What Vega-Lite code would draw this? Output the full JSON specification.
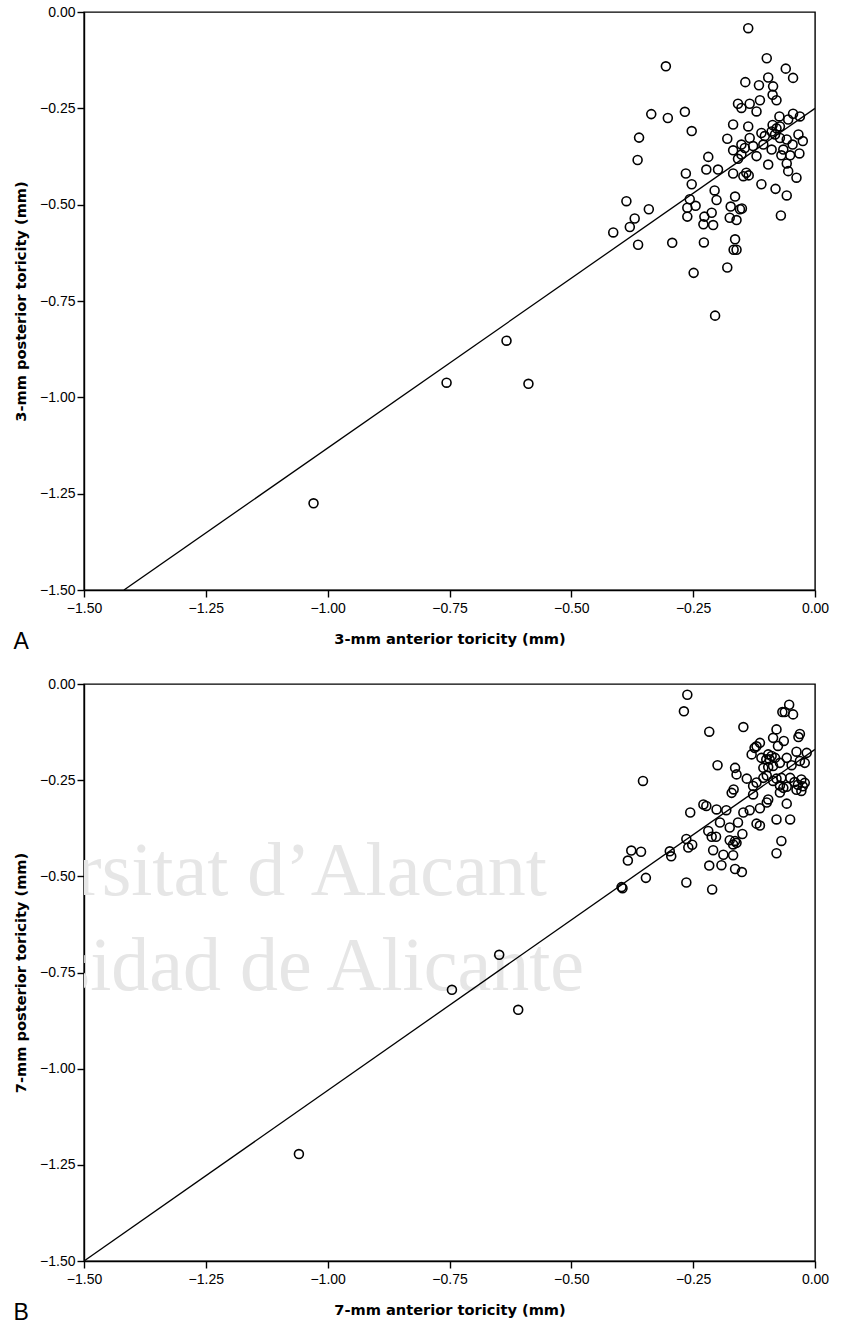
{
  "$schema": "https://vega.github.io/schema/vega-lite/v6.json",
  "background": "white",
  "padding": {"left": 12, "top": 4, "right": 10, "bottom": 5},
  "spacing": 94,
  "bounds": "flush",
  "config": {
    "view": {"stroke": "black", "strokeWidth": 1.4},
    "axis": {
      "grid": false,
      "domainColor": "black",
      "domainWidth": 1.4,
      "tickColor": "black",
      "tickWidth": 1.4,
      "tickSize": 7,
      "labelColor": "black",
      "labelFont": "Liberation Sans",
      "labelFontSize": 14,
      "labelFlush": false,
      "labelOverlap": false,
      "titleColor": "black",
      "titleFont": "DejaVu Sans",
      "titleFontSize": 14.6,
      "titleFontWeight": "bold"
    },
    "axisX": {"labelPadding": 4, "titlePadding": 16},
    "axisY": {"labelPadding": 2, "titlePadding": 11},
    "title": {"font": "Liberation Sans", "fontSize": 23, "fontWeight": "normal", "color": "black"}
  },
  "datasets": {
    "toricity3": [
      {"anterior": -0.137, "posterior": -0.042}, {"anterior": -0.099, "posterior": -0.120},
      {"anterior": -0.306, "posterior": -0.141}, {"anterior": -0.060, "posterior": -0.147},
      {"anterior": -0.045, "posterior": -0.171}, {"anterior": -0.143, "posterior": -0.182},
      {"anterior": -0.115, "posterior": -0.190}, {"anterior": -0.096, "posterior": -0.170},
      {"anterior": -0.086, "posterior": -0.193}, {"anterior": -0.087, "posterior": -0.215},
      {"anterior": -0.079, "posterior": -0.229}, {"anterior": -0.113, "posterior": -0.229},
      {"anterior": -0.158, "posterior": -0.238}, {"anterior": -0.151, "posterior": -0.249},
      {"anterior": -0.134, "posterior": -0.238}, {"anterior": -0.120, "posterior": -0.258},
      {"anterior": -0.336, "posterior": -0.265}, {"anterior": -0.302, "posterior": -0.275},
      {"anterior": -0.267, "posterior": -0.259}, {"anterior": -0.253, "posterior": -0.309},
      {"anterior": -0.361, "posterior": -0.326}, {"anterior": -0.364, "posterior": -0.384},
      {"anterior": -0.073, "posterior": -0.271}, {"anterior": -0.045, "posterior": -0.264},
      {"anterior": -0.031, "posterior": -0.271}, {"anterior": -0.055, "posterior": -0.279},
      {"anterior": -0.168, "posterior": -0.292}, {"anterior": -0.137, "posterior": -0.297},
      {"anterior": -0.087, "posterior": -0.293}, {"anterior": -0.079, "posterior": -0.302},
      {"anterior": -0.089, "posterior": -0.310}, {"anterior": -0.072, "posterior": -0.297},
      {"anterior": -0.082, "posterior": -0.318}, {"anterior": -0.110, "posterior": -0.314},
      {"anterior": -0.103, "posterior": -0.322}, {"anterior": -0.134, "posterior": -0.327},
      {"anterior": -0.180, "posterior": -0.329}, {"anterior": -0.072, "posterior": -0.327},
      {"anterior": -0.058, "posterior": -0.331}, {"anterior": -0.034, "posterior": -0.318},
      {"anterior": -0.025, "posterior": -0.335}, {"anterior": -0.151, "posterior": -0.344},
      {"anterior": -0.168, "posterior": -0.359}, {"anterior": -0.144, "posterior": -0.353},
      {"anterior": -0.127, "posterior": -0.348}, {"anterior": -0.106, "posterior": -0.344},
      {"anterior": -0.089, "posterior": -0.357}, {"anterior": -0.065, "posterior": -0.357},
      {"anterior": -0.046, "posterior": -0.344}, {"anterior": -0.151, "posterior": -0.370},
      {"anterior": -0.120, "posterior": -0.374}, {"anterior": -0.069, "posterior": -0.372},
      {"anterior": -0.051, "posterior": -0.372}, {"anterior": -0.032, "posterior": -0.367},
      {"anterior": -0.219, "posterior": -0.376}, {"anterior": -0.158, "posterior": -0.381},
      {"anterior": -0.058, "posterior": -0.393}, {"anterior": -0.096, "posterior": -0.396},
      {"anterior": -0.223, "posterior": -0.409}, {"anterior": -0.199, "posterior": -0.409},
      {"anterior": -0.055, "posterior": -0.413}, {"anterior": -0.038, "posterior": -0.430},
      {"anterior": -0.168, "posterior": -0.419}, {"anterior": -0.141, "posterior": -0.417},
      {"anterior": -0.136, "posterior": -0.424}, {"anterior": -0.147, "posterior": -0.426},
      {"anterior": -0.265, "posterior": -0.419}, {"anterior": -0.253, "posterior": -0.447},
      {"anterior": -0.110, "posterior": -0.447}, {"anterior": -0.081, "posterior": -0.459},
      {"anterior": -0.058, "posterior": -0.476}, {"anterior": -0.387, "posterior": -0.491},
      {"anterior": -0.341, "posterior": -0.512}, {"anterior": -0.206, "posterior": -0.463},
      {"anterior": -0.202, "posterior": -0.488}, {"anterior": -0.257, "posterior": -0.486},
      {"anterior": -0.164, "posterior": -0.479}, {"anterior": -0.370, "posterior": -0.536},
      {"anterior": -0.380, "posterior": -0.558}, {"anterior": -0.414, "posterior": -0.572},
      {"anterior": -0.363, "posterior": -0.604}, {"anterior": -0.293, "posterior": -0.599},
      {"anterior": -0.262, "posterior": -0.508}, {"anterior": -0.245, "posterior": -0.503},
      {"anterior": -0.262, "posterior": -0.531}, {"anterior": -0.227, "posterior": -0.531},
      {"anterior": -0.212, "posterior": -0.521}, {"anterior": -0.229, "posterior": -0.551},
      {"anterior": -0.209, "posterior": -0.553}, {"anterior": -0.173, "posterior": -0.505},
      {"anterior": -0.154, "posterior": -0.512}, {"anterior": -0.150, "posterior": -0.510},
      {"anterior": -0.175, "posterior": -0.534}, {"anterior": -0.161, "posterior": -0.540},
      {"anterior": -0.228, "posterior": -0.598}, {"anterior": -0.164, "posterior": -0.590},
      {"anterior": -0.167, "posterior": -0.617}, {"anterior": -0.161, "posterior": -0.617},
      {"anterior": -0.180, "posterior": -0.663}, {"anterior": -0.249, "posterior": -0.677},
      {"anterior": -0.205, "posterior": -0.788}, {"anterior": -0.070, "posterior": -0.528},
      {"anterior": -0.633, "posterior": -0.853}, {"anterior": -0.756, "posterior": -0.962},
      {"anterior": -0.588, "posterior": -0.965}, {"anterior": -1.029, "posterior": -1.275}
    ],
    "fit3": [
      {"anterior": -1.418, "posterior": -1.5},
      {"anterior": 0.0, "posterior": -0.25}
    ],
    "toricity7": [
      {"anterior": -0.262, "posterior": -0.028}, {"anterior": -0.269, "posterior": -0.071},
      {"anterior": -0.053, "posterior": -0.054}, {"anterior": -0.067, "posterior": -0.073},
      {"anterior": -0.062, "posterior": -0.073}, {"anterior": -0.045, "posterior": -0.079},
      {"anterior": -0.217, "posterior": -0.124}, {"anterior": -0.147, "posterior": -0.112},
      {"anterior": -0.079, "posterior": -0.118}, {"anterior": -0.031, "posterior": -0.130},
      {"anterior": -0.034, "posterior": -0.138}, {"anterior": -0.086, "posterior": -0.140},
      {"anterior": -0.064, "posterior": -0.148}, {"anterior": -0.113, "posterior": -0.153},
      {"anterior": -0.120, "posterior": -0.162}, {"anterior": -0.124, "posterior": -0.166},
      {"anterior": -0.076, "posterior": -0.161}, {"anterior": -0.038, "posterior": -0.176},
      {"anterior": -0.017, "posterior": -0.179}, {"anterior": -0.130, "posterior": -0.183},
      {"anterior": -0.096, "posterior": -0.183}, {"anterior": -0.089, "posterior": -0.187},
      {"anterior": -0.093, "posterior": -0.196}, {"anterior": -0.082, "posterior": -0.192},
      {"anterior": -0.100, "posterior": -0.196}, {"anterior": -0.110, "posterior": -0.192},
      {"anterior": -0.058, "posterior": -0.192}, {"anterior": -0.031, "posterior": -0.200},
      {"anterior": -0.021, "posterior": -0.205}, {"anterior": -0.072, "posterior": -0.205},
      {"anterior": -0.106, "posterior": -0.218}, {"anterior": -0.096, "posterior": -0.216},
      {"anterior": -0.086, "posterior": -0.213}, {"anterior": -0.048, "posterior": -0.211},
      {"anterior": -0.200, "posterior": -0.211}, {"anterior": -0.164, "posterior": -0.218},
      {"anterior": -0.161, "posterior": -0.235}, {"anterior": -0.140, "posterior": -0.246},
      {"anterior": -0.353, "posterior": -0.252}, {"anterior": -0.106, "posterior": -0.244},
      {"anterior": -0.099, "posterior": -0.238}, {"anterior": -0.079, "posterior": -0.246},
      {"anterior": -0.069, "posterior": -0.244}, {"anterior": -0.042, "posterior": -0.255},
      {"anterior": -0.028, "posterior": -0.248}, {"anterior": -0.035, "posterior": -0.262},
      {"anterior": -0.025, "posterior": -0.266}, {"anterior": -0.038, "posterior": -0.275},
      {"anterior": -0.021, "posterior": -0.257}, {"anterior": -0.028, "posterior": -0.278},
      {"anterior": -0.120, "posterior": -0.256}, {"anterior": -0.127, "posterior": -0.265},
      {"anterior": -0.072, "posterior": -0.264}, {"anterior": -0.065, "posterior": -0.270},
      {"anterior": -0.058, "posterior": -0.267}, {"anterior": -0.051, "posterior": -0.244},
      {"anterior": -0.086, "posterior": -0.252}, {"anterior": -0.167, "posterior": -0.274},
      {"anterior": -0.171, "posterior": -0.283}, {"anterior": -0.127, "posterior": -0.287},
      {"anterior": -0.096, "posterior": -0.300}, {"anterior": -0.099, "posterior": -0.308},
      {"anterior": -0.072, "posterior": -0.282}, {"anterior": -0.058, "posterior": -0.311},
      {"anterior": -0.229, "posterior": -0.313}, {"anterior": -0.223, "posterior": -0.317},
      {"anterior": -0.202, "posterior": -0.326}, {"anterior": -0.182, "posterior": -0.328},
      {"anterior": -0.147, "posterior": -0.334}, {"anterior": -0.134, "posterior": -0.328},
      {"anterior": -0.113, "posterior": -0.323}, {"anterior": -0.256, "posterior": -0.334},
      {"anterior": -0.079, "posterior": -0.352}, {"anterior": -0.051, "posterior": -0.352},
      {"anterior": -0.195, "posterior": -0.360}, {"anterior": -0.158, "posterior": -0.360},
      {"anterior": -0.175, "posterior": -0.373}, {"anterior": -0.120, "posterior": -0.363},
      {"anterior": -0.113, "posterior": -0.368}, {"anterior": -0.219, "posterior": -0.382},
      {"anterior": -0.212, "posterior": -0.397}, {"anterior": -0.203, "posterior": -0.397},
      {"anterior": -0.149, "posterior": -0.390}, {"anterior": -0.175, "posterior": -0.406},
      {"anterior": -0.164, "posterior": -0.408}, {"anterior": -0.161, "posterior": -0.413},
      {"anterior": -0.168, "posterior": -0.417}, {"anterior": -0.069, "posterior": -0.408},
      {"anterior": -0.079, "posterior": -0.440}, {"anterior": -0.209, "posterior": -0.432},
      {"anterior": -0.188, "posterior": -0.444}, {"anterior": -0.168, "posterior": -0.445},
      {"anterior": -0.264, "posterior": -0.403}, {"anterior": -0.252, "posterior": -0.418},
      {"anterior": -0.260, "posterior": -0.425}, {"anterior": -0.298, "posterior": -0.435},
      {"anterior": -0.295, "posterior": -0.448}, {"anterior": -0.377, "posterior": -0.433},
      {"anterior": -0.357, "posterior": -0.436}, {"anterior": -0.384, "posterior": -0.459},
      {"anterior": -0.217, "posterior": -0.472}, {"anterior": -0.192, "posterior": -0.471},
      {"anterior": -0.164, "posterior": -0.481}, {"anterior": -0.150, "posterior": -0.489},
      {"anterior": -0.347, "posterior": -0.504}, {"anterior": -0.264, "posterior": -0.516},
      {"anterior": -0.211, "posterior": -0.534}, {"anterior": -0.397, "posterior": -0.528},
      {"anterior": -0.395, "posterior": -0.531}, {"anterior": -0.648, "posterior": -0.704},
      {"anterior": -0.745, "posterior": -0.795}, {"anterior": -0.609, "posterior": -0.847},
      {"anterior": -1.059, "posterior": -1.222}
    ],
    "fit7": [
      {"anterior": -1.5, "posterior": -1.5},
      {"anterior": 0.0, "posterior": -0.17}
    ],
    "stamp": [
      {"line": "Universitat d’Alacant", "edge": -0.55, "base": -0.548},
      {"line": "Universidad de Alicante", "edge": -0.474, "base": -0.795}
    ]
  },
  "vconcat": [
    {
      "width": 731,
      "height": 578,
      "title": {"text": "A", "orient": "bottom", "anchor": "start", "frame": "bounds", "offset": -15},
      "encoding": {
        "x": {
          "field": "anterior", "type": "quantitative",
          "scale": {"domain": [-1.5, 0], "nice": false, "zero": false},
          "axis": {"values": [-1.5, -1.25, -1, -0.75, -0.5, -0.25, 0], "format": ".2f", "title": "3-mm anterior toricity (mm)"}
        },
        "y": {
          "field": "posterior", "type": "quantitative",
          "scale": {"domain": [-1.5, 0], "nice": false, "zero": false},
          "axis": {"values": [-1.5, -1.25, -1, -0.75, -0.5, -0.25, 0], "format": ".2f", "title": "3-mm posterior toricity (mm)"}
        }
      },
      "layer": [
        {
          "data": {"name": "fit3"},
          "mark": {"type": "line", "color": "black", "strokeWidth": 1.3, "clip": true}
        },
        {
          "data": {"name": "toricity3"},
          "mark": {"type": "point", "shape": "circle", "filled": false, "color": "black", "size": 80, "strokeWidth": 1.6, "opacity": 1}
        },
        {
          "data": {"values": [{}]},
          "mark": {"type": "text", "align": "left", "baseline": "middle", "font": "Liberation Sans", "fontSize": 13.5, "color": "black"},
          "encoding": {
            "x": {"datum": -0.31},
            "y": {"datum": -1.292},
            "text": {"value": "R² Linear = 0.526"}
          }
        }
      ]
    },
    {
      "width": 731,
      "height": 577,
      "title": {"text": "B", "orient": "bottom", "anchor": "start", "frame": "bounds", "offset": -15},
      "encoding": {
        "x": {
          "field": "anterior", "type": "quantitative",
          "scale": {"domain": [-1.5, 0], "nice": false, "zero": false},
          "axis": {"values": [-1.5, -1.25, -1, -0.75, -0.5, -0.25, 0], "format": ".2f", "title": "7-mm anterior toricity (mm)"}
        },
        "y": {
          "field": "posterior", "type": "quantitative",
          "scale": {"domain": [-1.5, 0], "nice": false, "zero": false},
          "axis": {"values": [-1.5, -1.25, -1, -0.75, -0.5, -0.25, 0], "format": ".2f", "title": "7-mm posterior toricity (mm)"}
        }
      },
      "layer": [
        {
          "data": {"name": "stamp"},
          "mark": {"type": "text", "align": "right", "baseline": "alphabetic", "font": "Liberation Serif", "fontSize": 76, "fill": "#e6e6e6", "opacity": 1, "clip": true},
          "encoding": {
            "x": {"field": "edge", "type": "quantitative"},
            "y": {"field": "base", "type": "quantitative"},
            "text": {"field": "line", "type": "nominal"}
          }
        },
        {
          "data": {"name": "fit7"},
          "mark": {"type": "line", "color": "black", "strokeWidth": 1.3, "clip": true}
        },
        {
          "data": {"name": "toricity7"},
          "mark": {"type": "point", "shape": "circle", "filled": false, "color": "black", "size": 80, "strokeWidth": 1.6, "opacity": 1}
        },
        {
          "data": {"values": [{}]},
          "mark": {"type": "text", "align": "left", "baseline": "middle", "font": "Liberation Sans", "fontSize": 13.5, "color": "black"},
          "encoding": {
            "x": {"datum": -0.31},
            "y": {"datum": -1.292},
            "text": {"value": "R² Linear = 0.644"}
          }
        }
      ]
    }
  ]
}
